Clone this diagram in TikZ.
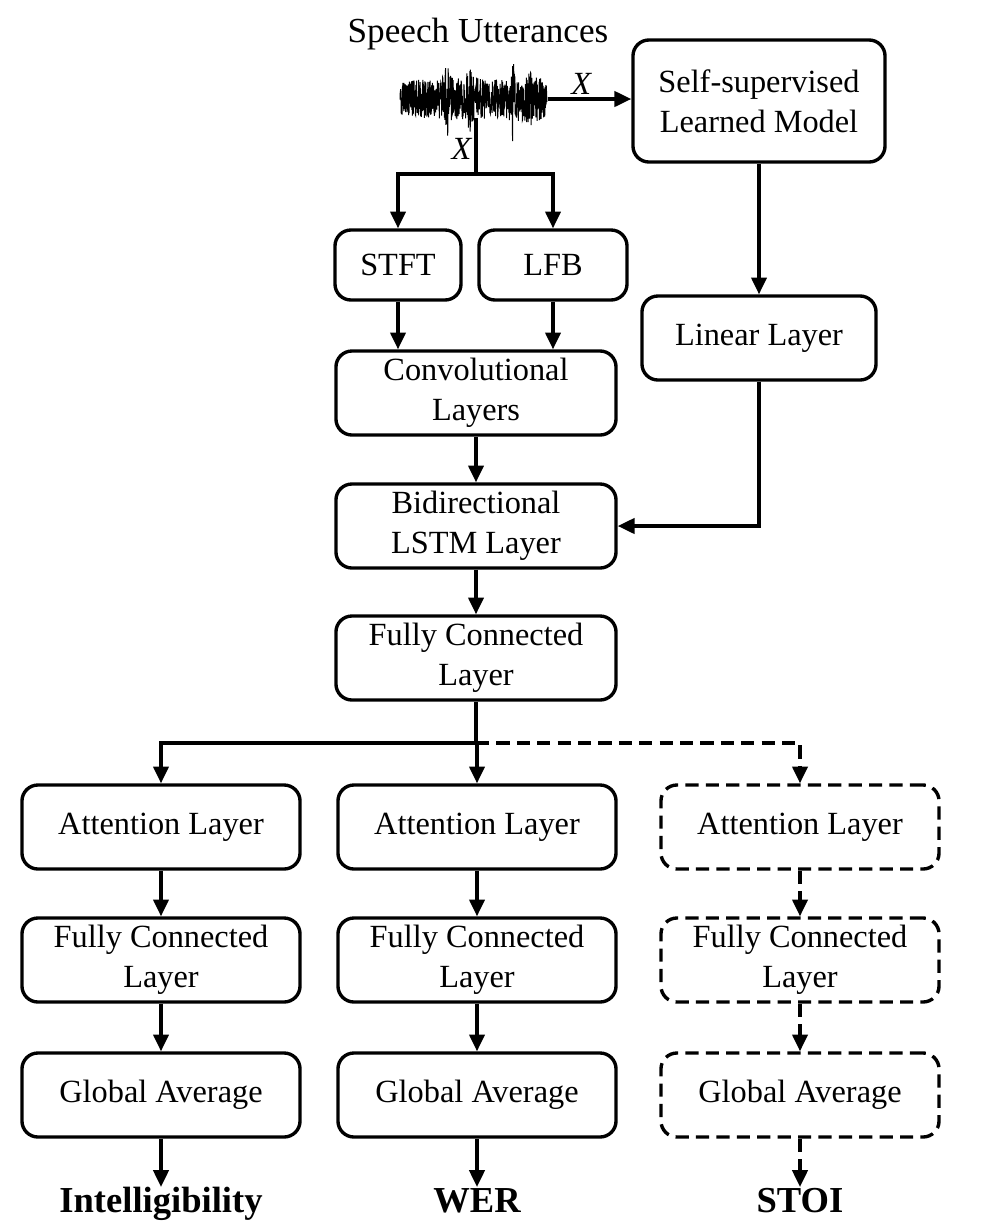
\documentclass[tikz,border=0pt]{standalone}
\usepackage{fontspec}
\setmainfont{Liberation Serif}
\usetikzlibrary{arrows.meta}

\begin{document}
\begin{tikzpicture}[
    x=0.025cm, y=-0.025cm,
    >={Triangle[length=0.42cm,width=0.38cm]},
    declare function={wamp(\t)=19+20/(1+((\t-447)/2)^2)+26/(1+((\t-513)/1.2)^2)
                      +14/(1+((\t-470)/3)^2)+8/(1+((\t-530)/6)^2);},
    box/.style={rectangle, draw, line width=2.4pt, rounded corners=0.4cm,
                minimum width=6.95cm, minimum height=2.1cm, align=center,
                inner sep=2pt, font=\fontsize{23}{28.5}\selectfont},
    dbox/.style={box, dash pattern=on 0.33cm off 0.18cm},
    flow/.style={line width=2.4pt, ->},
    dflow/.style={flow, dash pattern=on 0.33cm off 0.18cm},
    lbl/.style={font=\fontsize{23}{27}\selectfont\itshape, inner sep=2pt},
    score/.style={font=\fontsize{26}{30}\selectfont\bfseries, inner sep=1pt,
                  text height=0.6cm, text depth=0.15cm, anchor=north}
]
    \useasboundingbox (0,0) rectangle (994,1232);

    \node[font=\fontsize{25}{30}\selectfont] (title) at (478,34) {Speech Utterances};
    \pgfmathsetseed{11}
    \draw[line width=0.7pt] plot[domain=400:547, samples=700] (\x,{99+wamp(\x)*rand});
    \coordinate (waveR) at (548,99);
    \coordinate (waveB) at (476,118);
    \coordinate (split1) at (476,174);

    \node[box, minimum width=6.3cm, minimum height=3.05cm] (ssl) at (759,101) {Self-supervised\\Learned Model};
    \node[box, minimum width=3.15cm, minimum height=1.75cm] (stft) at (398,265) {STFT};
    \node[box, minimum width=3.7cm, minimum height=1.75cm] (lfb) at (553,265) {LFB};
    \node[box, minimum width=5.85cm, minimum height=2.1cm] (lin) at (759,338) {Linear Layer};
    \node[box, minimum width=7cm] (conv) at (476,393) {Convolutional\\Layers};
    \node[box, minimum width=7cm] (blstm) at (476,526) {Bidirectional\\LSTM Layer};
    \node[box, minimum width=7cm] (fc) at (476,658) {Fully Connected\\Layer};
    \coordinate (split2) at (476,743);

    \draw[flow] (waveR) -- (waveR -| ssl.west) node[lbl, pos=0.4, above] {X};
    \draw[line width=2.4pt] (waveB) -- (split1) node[lbl, pos=0.55, left] {X};
    \draw[flow] (split1) -| (stft);
    \draw[flow] (split1) -| (lfb);
    \draw[flow] (stft) -- (stft |- conv.north);
    \draw[flow] (lfb) -- (lfb |- conv.north);
    \draw[flow] (conv) -- (blstm);
    \draw[flow] (blstm) -- (fc);
    \draw[flow] (ssl) -- (lin);
    \draw[flow] (lin) |- (blstm);
    \draw[line width=2.4pt] (fc) -- (split2);

    \foreach \c/\x/\s/\l/\t in {1/161/box/flow/Intelligibility, 2/477/box/flow/WER, 3/800/dbox/dflow/STOI} {
        \node[\s] (att\c) at (\x,827) {Attention Layer};
        \node[\s] (fcl\c) at (\x,960) {Fully Connected\\Layer};
        \node[\s] (avg\c) at (\x,1095) {Global Average};
        \node[score] (out\c) at (\x,1187) {\t};
        \draw[\l] (split2) -| (att\c);
        \draw[\l] (att\c) -- (fcl\c);
        \draw[\l] (fcl\c) -- (avg\c);
        \draw[\l] (avg\c) -- (out\c);
    }
\end{tikzpicture}
\end{document}
